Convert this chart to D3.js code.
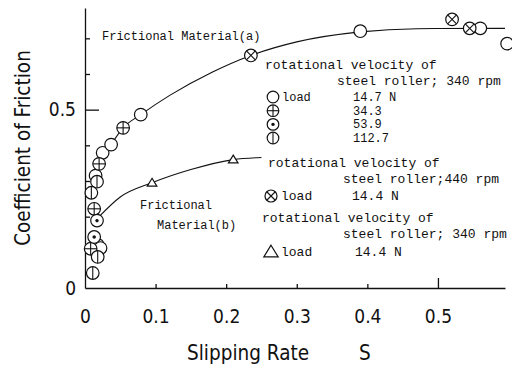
<!DOCTYPE html>
<meta charset="utf-8">
<head>
  <title>Coefficient of friction vs slipping rate</title>
</head>
<style>
body { margin: 0; background: #fff; }
svg { display: block; }
.ax text, .title {
  font-family: "DejaVu Sans Condensed", "Liberation Sans Narrow", "DejaVu Sans", sans-serif;
  font-stretch: condensed;
  font-size: 19px;
  fill: #111;
}
.title { font-size: 20.5px; }
.ax path, .ax line { stroke: #111; stroke-width: 1.3; }
.note {
  font-family: "Liberation Mono", "DejaVu Sans Mono", monospace;
  font-size: 13px;
  fill: #111;
}
.mk circle, .mk path.tri { fill: #fff; stroke: #111; stroke-width: 1.2; }
.mk line { stroke: #111; stroke-width: 1.1; }
.curve { fill: none; stroke: #111; stroke-width: 1.1; }
</style>
<body>
<svg width="512" height="368"></svg>

<script src="https://cdnjs.cloudflare.com/ajax/libs/d3/7.8.5/d3.min.js"></script>
<script>
// tick labels
var xTickValues = [0, 0.1, 0.2, 0.3, 0.4, 0.5];
var yTickValues = [0, 0.1, 0.2, 0.3, 0.4, 0.5, 0.6, 0.7];
var yTickLabels = [0, 0.5];

// measured points [slipping rate, coefficient]
var load147 = [[0.015, 0.315], [0.025, 0.379], [0.037, 0.402], [0.079, 0.486],
               [0.39, 0.72], [0.56, 0.728], [0.598, 0.685],
               [0.018, 0.121], [0.022, 0.112]];
var load343 = [[0.020, 0.348], [0.054, 0.449], [0.013, 0.222], [0.008, 0.11]];
var load539 = [[0.017, 0.189], [0.013, 0.143]];
var load1127 = [[0.017, 0.298], [0.009, 0.267], [0.018, 0.087], [0.011, 0.042]];
var rpm440 = [[0.235, 0.652], [0.52, 0.753], [0.545, 0.728]];
var matB = [[0.095, 0.295], [0.21, 0.36]];

// hand drawn fitted curves
var curveA = [[0.012, 0.29], [0.02, 0.345], [0.037, 0.402], [0.054, 0.449], [0.079, 0.486],
              [0.12, 0.54], [0.18, 0.605], [0.235, 0.652], [0.3, 0.69], [0.39, 0.718],
              [0.47, 0.727], [0.595, 0.728]];
var curveB = [[0.02, 0.2], [0.05, 0.255], [0.095, 0.295], [0.15, 0.332], [0.21, 0.36], [0.25, 0.366]];

var svg = d3.select('svg');
var x = d3.scaleLinear().domain([0, 0.595]).range([85, 505]);
var y = d3.scaleLinear().domain([0, 0.785]).range([288, 8]);

// axes
var xAxis = svg.append('g').attr('class', 'ax')
  .attr('transform', 'translate(0,' + y(0) + ')')
  .call(d3.axisBottom(x).tickValues(xTickValues).tickSizeInner(-4).tickSizeOuter(0)
    .tickPadding(22).tickFormat(function(d) { return d === 0 ? '0' : d3.format('.1f')(d); }));
xAxis.selectAll('.tick line').filter(function(d) { return d === 0.5; }).attr('y2', -10);
xAxis.selectAll('.tick line').filter(function(d) { return d === 0; }).remove();

var yAxis = svg.append('g').attr('class', 'ax')
  .attr('transform', 'translate(' + x(0) + ',0)')
  .call(d3.axisLeft(y).tickValues(yTickValues).tickSizeInner(-5).tickSizeOuter(0)
    .tickPadding(9).tickFormat(function(d) { return yTickLabels.indexOf(d) >= 0 ? (d === 0 ? '0' : d3.format('.1f')(d)) : ''; }));
yAxis.selectAll('.tick line').filter(function(d) { return d === 0.5; }).attr('x2', 14);
yAxis.selectAll('.tick line').filter(function(d) { return d === 0; }).attr('x2', 0);

svg.append('text').attr('class', 'title')
  .attr('transform', 'translate(30,148) rotate(-90)')
  .attr('text-anchor', 'middle')
  .text('Coefficient of Friction');
svg.append('text').attr('class', 'title').attr('x', 187).attr('y', 360).text('Slipping Rate');
svg.append('text').attr('class', 'title').attr('x', 359).attr('y', 360).text('S');

// curves
var line = d3.line().x(function(d) { return x(d[0]); }).y(function(d) { return y(d[1]); })
  .curve(d3.curveMonotoneX);
svg.append('path').attr('class', 'curve').attr('d', line(curveA));
svg.append('path').attr('class', 'curve').attr('d', line(curveB));

// marker drawing
function marker(g, type, cx, cy, r) {
  var m = g.append('g').attr('class', 'mk').attr('transform', 'translate(' + cx + ',' + cy + ')');
  if (type === 'tri') {
    m.append('path').attr('class', 'tri')
      .attr('d', 'M0,' + (-r * 0.75) + 'L' + (r * 0.8) + ',' + (r * 0.55) + 'L' + (-r * 0.8) + ',' + (r * 0.55) + 'Z');
    return;
  }
  m.append('circle').attr('r', r);
  if (type === 'plus') {
    m.append('line').attr('x1', -r).attr('x2', r);
    m.append('line').attr('y1', -r).attr('y2', r);
  } else if (type === 'dot') {
    m.append('circle').attr('r', 1.1).style('fill', '#111');
  } else if (type === 'phi') {
    m.append('line').attr('y1', -r).attr('y2', r);
  } else if (type === 'cross') {
    var k = r * 0.7071;
    m.append('line').attr('x1', -k).attr('y1', -k).attr('x2', k).attr('y2', k);
    m.append('line').attr('x1', -k).attr('y1', k).attr('x2', k).attr('y2', -k);
  }
}

var sets = [
  { data: load147, type: 'open' },
  { data: load343, type: 'plus' },
  { data: load539, type: 'dot' },
  { data: load1127, type: 'phi' },
  { data: rpm440, type: 'cross' },
  { data: matB, type: 'tri' }
];
var marks = svg.append('g');
sets.forEach(function(s) {
  s.data.forEach(function(d) {
    marker(marks, s.type, x(d[0]), y(d[1]), s.type === 'tri' ? 6 : 6.3);
  });
});

// annotations
var notes = svg.append('g');
function note(tx, ty, str, size) {
  notes.append('text').attr('class', 'note').attr('x', tx).attr('y', ty)
    .style('font-size', (size || 13) + 'px').text(str);
}
note(102, 40, 'Frictional Material(a)', 12);
note(140, 209, 'Frictional', 12);
note(157, 229, 'Material(b)', 12);

note(265, 69, 'rotational velocity of');
note(337, 85, 'steel roller; 340 rpm');
marker(notes, 'open', 273, 97, 5.8);
note(282, 101, 'load', 12);
note(353, 101, '14.7 N', 12);
marker(notes, 'plus', 273, 110.7, 5.8);
note(353, 114.7, '34.3', 12);
marker(notes, 'dot', 273, 124.4, 5.8);
note(353, 128.4, '53.9', 12);
marker(notes, 'phi', 273, 138, 5.8);
note(353, 142, '112.7', 12);

note(268, 167, 'rotational velocity of');
note(343, 183, 'steel roller;440 rpm');
marker(notes, 'cross', 271, 196, 6);
note(281, 200, 'load');
note(352, 200, '14.4  N');

note(262, 222, 'rotational velocity of');
note(343, 238, 'steel roller; 340 rpm');
marker(notes, 'tri', 271, 252, 9);
note(281, 256, 'load');
note(355, 256, '14.4  N');
</script>
</body>
